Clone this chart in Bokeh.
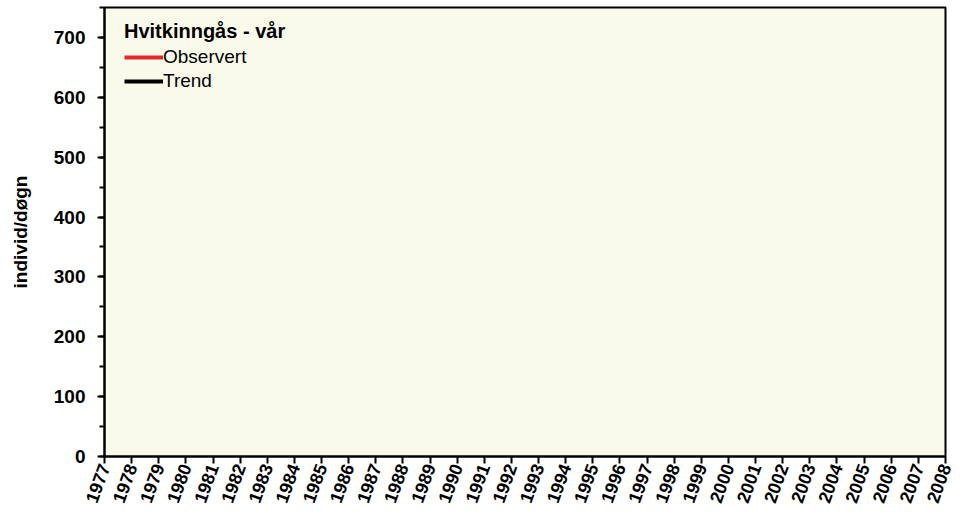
import math
from bokeh.plotting import figure
from bokeh.models import Range1d, FixedTicker, SingleIntervalTicker, ColumnDataSource, Legend, LegendItem
from bokeh.embed import file_html
from bokeh.resources import INLINE

nan = float("nan")
years = list(range(1977, 2009))
# No observed or trend values are visible in the reference chart (missing data)
obs_years = [1977]
obs_values = [nan]
trend_years = [1977]
trend_values = [nan]

FONT = "Liberation Sans"

p = figure(width=959, height=509, output_backend="svg", toolbar_location=None,
           x_range=Range1d(1977, 2008), y_range=Range1d(0, 750),
           min_border_left=104, min_border_right=14, min_border_top=7, min_border_bottom=52)
p.background_fill_color = "#FAFAEB"
p.border_fill_color = "white"
p.outline_line_color = "black"
p.outline_line_width = 2
p.xgrid.visible = False
p.ygrid.visible = False

src_obs = ColumnDataSource(dict(x=obs_years, y=obs_values))
src_tr = ColumnDataSource(dict(x=trend_years, y=trend_values))
r1 = p.line("x", "y", source=src_obs, line_color="#E0282A", line_width=4)
r2 = p.line("x", "y", source=src_tr, line_color="black", line_width=4)

legend = Legend(items=[LegendItem(label="Observert", renderers=[r1]),
                       LegendItem(label="Trend", renderers=[r2])],
                location=(20, 364), title="Hvitkinngås - vår")
legend.title_text_font = FONT
legend.title_text_font_style = "bold"
legend.title_text_font_size = "20px"
legend.title_text_color = "black"
legend.label_text_font = FONT
legend.label_text_font_size = "19px"
legend.label_text_color = "black"
legend.border_line_color = None
legend.background_fill_alpha = 0
legend.glyph_width = 39
legend.glyph_height = 20
legend.label_standoff = 0
legend.spacing = 2
legend.padding = 0
legend.margin = 0
legend.label_height = 20
legend.title_standoff = 3
p.add_layout(legend)

xa = p.xaxis[0]
xa.ticker = FixedTicker(ticks=years)
xa.major_label_overrides = {y: str(y) for y in years}
xa.major_label_orientation = math.radians(70)
xa.major_label_text_font = FONT
xa.major_label_text_font_style = "bold"
xa.major_label_text_font_size = "18px"
xa.major_label_text_color = "black"
xa.major_tick_out = 7
xa.major_tick_in = 0
xa.minor_tick_line_color = None
xa.axis_line_width = 2
xa.major_tick_line_width = 2
xa.major_label_standoff = 1

ya = p.yaxis[0]
ya.ticker = SingleIntervalTicker(interval=100, num_minor_ticks=2)
ya.major_label_text_font = FONT
ya.major_label_text_font_style = "bold"
ya.major_label_text_font_size = "19px"
ya.major_label_text_color = "black"
ya.major_tick_out = 7
ya.major_tick_in = 0
ya.minor_tick_out = 5
ya.minor_tick_in = 0
ya.axis_line_width = 2
ya.major_tick_line_width = 2
ya.minor_tick_line_width = 2
ya.major_label_standoff = 12
ya.axis_label = "individ/døgn"
ya.axis_label_text_font = FONT
ya.axis_label_text_font_style = "bold"
ya.axis_label_text_font_size = "19px"
ya.axis_label_text_color = "black"
ya.axis_label_standoff = 20

open("out.html", "w").write(file_html(p, INLINE))
